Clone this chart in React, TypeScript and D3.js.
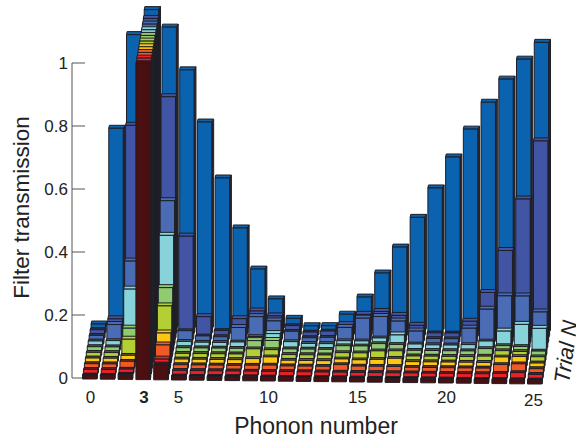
import React from "react";
import * as d3 from "d3";

const columns = d3.range(26);
const xTicks = [0, 3, 5, 10, 15, 20, 25];
const yTicks = [0, 0.2, 0.4, 0.6, 0.8, 1];
const rowColors = ["#4a0f10", "#ee2027", "#f15a24", "#fcc712", "#b3cf33", "#90cb6f", "#87d3d9", "#4a6cb4", "#4254a4", "#0b62ae"];

const row0 = [.01,.01,.014,1,.044,.01,.01,.01,.01,.01,.01,.01,.01,.01,.01,.01,.01,.01,.01,.01,.01,.01,.01,.01,.01,.01];
const row1 = [.01,.01,.012,1,.045,.01,.01,.01,.01,.01,.01,.01,.01,.01,.01,.01,.01,.01,.01,.01,.01,.01,.01,.012,.015,.01];
const row2 = [.01,.01,.019,1,.072,.01,.01,.01,.01,.011,.012,.01,.01,.01,.016,.012,.012,.012,.01,.01,.01,.01,.01,.022,.025,.01];
const row3 = [.01,.01,.02,1,.092,.01,.01,.01,.01,.014,.02,.01,.01,.01,.016,.014,.016,.02,.01,.01,.01,.01,.01,.028,.03,.01];
const row4 = [.01,.01,.053,1,.16,.01,.01,.01,.01,.027,.025,.01,.01,.01,.018,.018,.025,.026,.01,.01,.01,.01,.012,.03,.028,.012];
const row5 = [.01,.01,.07,1,.2,.01,.01,.01,.01,.035,.036,.01,.01,.01,.022,.022,.03,.028,.01,.01,.01,.01,.018,.028,.026,.012];
const row6 = [.01,.012,.176,1,.348,.012,.01,.01,.012,.03,.04,.015,.01,.01,.02,.02,.03,.04,.012,.01,.01,.012,.024,.056,.078,.066];
const row7 = [.01,.045,.247,1,.44,.028,.012,.01,.04,.075,.062,.03,.01,.012,.044,.074,.08,.066,.035,.012,.012,.046,.107,.15,.15,.1];
const row8 = [.01,.045,.66,1,.752,.31,.055,.012,.05,.075,.06,.03,.01,.014,.035,.068,.078,.066,.035,.012,.012,.05,.142,.276,.44,.625];
const row9 = [.01,.632,.93,1.01,.955,.82,.655,.478,.32,.19,.096,.035,.012,.013,.05,.105,.182,.265,.36,.454,.553,.642,.728,.802,.866,.92];
const rows = [row0, row1, row2, row3, row4, row5, row6, row7, row8, row9];

const sx = d3.scaleLinear().domain([0, 25]).range([82.5, 527.5]);
const sh = d3.scaleLinear().domain([0, 1]).range([0, 315]);
const sy = d3.scaleLinear().domain([0, 1]).range([378, 63]);

const W = 14.4;
const RX = 0.95, RY = 5.67, DX = 0.6;
const LINE = "#1e1e26";

const baseX = (c: number, r: number) => sx(c) + RX * r - (c / 25) * 0.2 * r;
const baseY = (c: number, r: number) => 379 + 0.2 * c - RY * r;

function Bar({ c, r, v }: { c: number; r: number; v: number }) {
  const x = baseX(c, r), y = baseY(c, r), t = y - sh(v) - 0.8;
  const col = rowColors[r];
  const tall = v > 0.03 || r === 9;
  const DY = tall ? 3 : 1.8;
  const SIDE = 0.5 + r * 0.15;
  const faceFill = tall ? col : d3.interpolateRgb(col, "#14141a")(0.55);
  const pts = (a: number[][]) => a.map((p) => p.join(",")).join(" ");
  return (
    <g stroke={LINE} strokeWidth={1} strokeLinejoin="round">
      <polygon fill="#2a2a34" points={pts([[x + W, t], [x + W + SIDE, t - DY], [x + W + SIDE, y - DY], [x + W, y]])} />
      <polygon fill={faceFill} points={pts([[x, t], [x + DX, t - DY], [x + W + SIDE, t - DY], [x + W, t]])} />
      <rect x={x} y={t} width={W} height={y - t} fill={col} />
    </g>
  );
}

const FONT = '"Liberation Sans", Arial, sans-serif';
const xLabelY = (c: number) => (c >= 25 ? 406 : 403);

export default function App() {
  return (
    <svg width={576} height={441} style={{ position: "absolute", left: 0, top: 0, background: "#fff" }} fontFamily={FONT}>
      <line x1={72} x2={72} y1={sy(1)} y2={sy(0)} stroke="#555" strokeWidth={1} />
      {yTicks.map((t) => (
        <g key={t}>
          <line x1={72} x2={85} y1={sy(t)} y2={sy(t)} stroke="#555" strokeWidth={1} />
          <text x={68} y={sy(t) + 6} textAnchor="end" fontSize={17} fill="#222">{t}</text>
        </g>
      ))}
      {d3.range(9, -1, -1).map((r) =>
        columns.map((c) => <Bar key={`${r}-${c}`} c={c} r={r} v={rows[r][c]} />)
      )}
      {xTicks.map((t) => (
        <text key={t} x={sx(t) + 8 + (t === 25 ? -2 : t === 5 ? -1 : 0)} y={xLabelY(t)} textAnchor="middle" fontSize={17} fontWeight={t === 3 ? "bold" : "normal"} fill="#222">{t}</text>
      ))}
      <text x={316} y={434} textAnchor="middle" fontSize={23} fill="#222">Phonon number</text>
      <text transform="translate(29,207.5) rotate(-90)" textAnchor="middle" fontSize={22.5} fill="#222">Filter transmission</text>
      <text transform="translate(569,384) rotate(-82)" fontSize={22} fontStyle="italic" fill="#222">Trial N</text>
    </svg>
  );
}
